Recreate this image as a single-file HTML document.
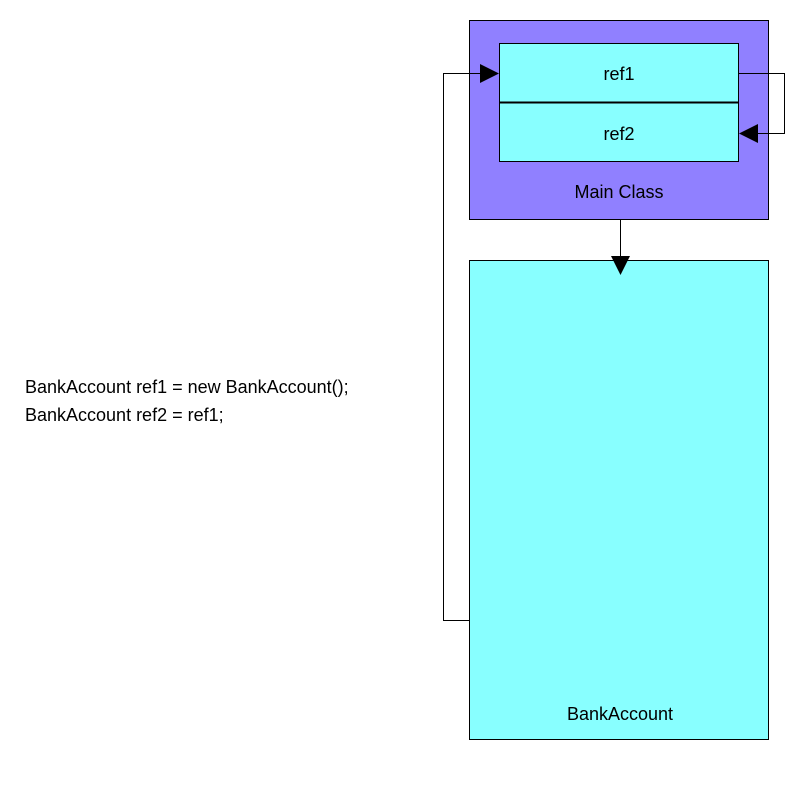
<!DOCTYPE html>
<html><head><style>
body{margin:0;background:#fff;width:800px;height:800px;overflow:hidden}
text{font-family:"Liberation Sans",sans-serif;font-size:18px;fill:#000}
</style></head><body>
<svg width="800" height="800" xmlns="http://www.w3.org/2000/svg">
<rect x="469.5" y="20.5" width="299" height="199" fill="#9080ff" stroke="#000"/>
<rect x="499.5" y="43.5" width="239" height="59" fill="#88ffff" stroke="#000"/>
<rect x="499.5" y="102.5" width="239" height="59" fill="#88ffff" stroke="#000"/>
<line x1="499" y1="102.5" x2="739" y2="102.5" stroke="#000" stroke-width="2"/>
<text x="619" y="80" text-anchor="middle">ref1</text>
<text x="619" y="140" text-anchor="middle">ref2</text>
<text x="619" y="198" text-anchor="middle">Main Class</text>
<rect x="469.5" y="260.5" width="299" height="479" fill="#88ffff" stroke="#000"/>
<text x="620" y="720" text-anchor="middle">BankAccount</text>
<polyline points="469,620.5 443.5,620.5 443.5,73.5 482,73.5" fill="none" stroke="#000"/>
<polygon points="480,64 499,73.5 480,83" fill="#000"/>
<polyline points="739,73.5 784.5,73.5 784.5,133.5 756,133.5" fill="none" stroke="#000"/>
<polygon points="758,124 739,133.5 758,143" fill="#000"/>
<line x1="620.5" y1="219" x2="620.5" y2="258" stroke="#000"/>
<polygon points="611,256 630,256 620.5,275" fill="#000"/>
<text x="25" y="393">BankAccount ref1 = new BankAccount();</text>
<text x="25" y="421">BankAccount ref2 = ref1;</text>
</svg>
</body></html>
